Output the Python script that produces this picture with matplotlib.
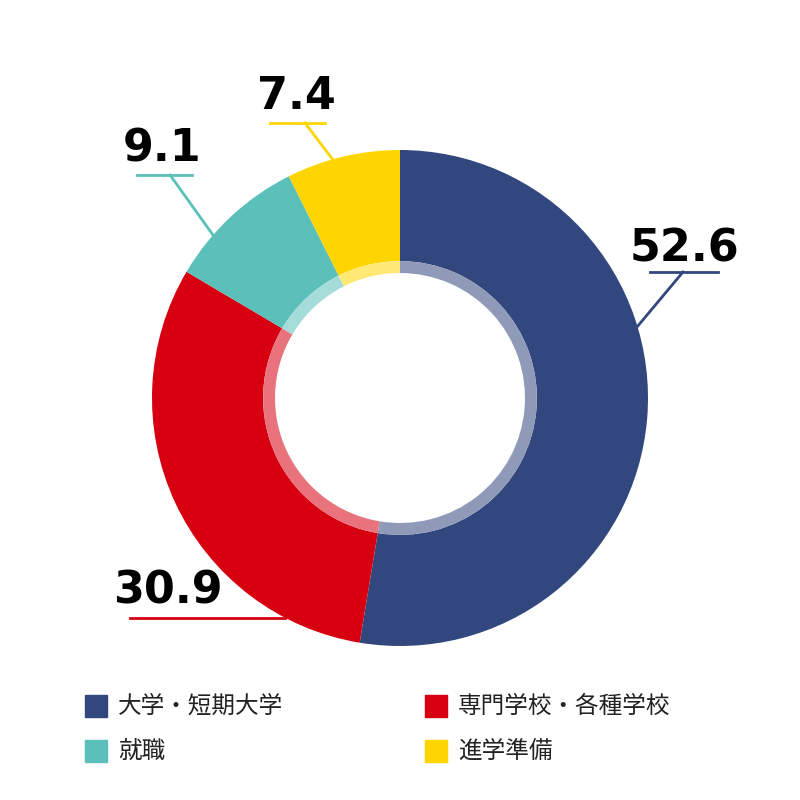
import matplotlib
matplotlib.use("Agg")
import matplotlib.pyplot as plt
from matplotlib.patches import Rectangle
import numpy as np

categories = ["大学・短期大学", "専門学校・各種学校", "就職", "進学準備"]
values = [52.6, 30.9, 9.1, 7.4]
labels = ["52.6", "30.9", "9.1", "7.4"]
colors = ["#33477F", "#D60011", "#5BBFBA", "#FFD500"]

def lighten(c, f=0.45):
    r, g, b = matplotlib.colors.to_rgb(c)
    return (r + (1 - r) * f, g + (1 - g) * f, b + (1 - b) * f)

fig = plt.figure(figsize=(8, 8), dpi=100)
ax = fig.add_axes([0.19, 0.1925, 0.62, 0.62])
ax.set_xlim(-1, 1); ax.set_ylim(-1, 1); ax.axis("off")
ax.pie(values, colors=colors, startangle=90, counterclock=False, radius=1,
       wedgeprops=dict(width=1 - 0.552, linewidth=0))
ax.pie(values, colors=[lighten(c) for c in colors], startangle=90, counterclock=False,
       radius=0.552, wedgeprops=dict(width=0.048, linewidth=0))
ax.set_xlim(-1, 1); ax.set_ylim(-1, 1)

numfont = dict(fontfamily=["Liberation Sans Narrow", "DejaVu Sans"], fontweight="bold",
               fontsize=32, ha="center", va="center", color="black")
# (text pos, underline x0,x1,y, leader points)
ann = [
    ((1.149, 0.600), (1.008, 1.282, 0.508), [(1.141, 0.508), (0.952, 0.282)]),
    ((-0.935, -0.780), (-1.089, -0.464, -0.887), None),
    ((-0.960, 1.003), (-1.060, -0.839, 0.899), [(-0.927, 0.899), (-0.754, 0.657)]),
    ((-0.419, 1.217), (-0.524, -0.302, 1.109), [(-0.383, 1.109), (-0.270, 0.960)]),
]
for lab, c, (tp, ul, ld) in zip(labels, colors, ann):
    ax.text(tp[0], tp[1], lab, clip_on=False, **numfont)
    ax.plot([ul[0], ul[1]], [ul[2], ul[2]], color=c, lw=2, clip_on=False)
    if ld:
        ax.plot([ld[0][0], ld[1][0]], [ld[0][1], ld[1][1]], color=c, lw=2, clip_on=False)

pos = [(85, 706), (425, 706), (85, 751), (425, 751)]
for (px, py), cat, c in zip(pos, categories, colors):
    fig.patches.append(Rectangle((px / 800, 1 - (py + 11) / 800), 22 / 800, 22 / 800,
                                 transform=fig.transFigure, color=c))
    fig.text((px + 33) / 800, 1 - py / 800, cat, fontfamily="Noto Sans CJK JP",
             fontsize=17, va="center", ha="left", color="#222222")

fig.savefig("out.png", dpi=100)
